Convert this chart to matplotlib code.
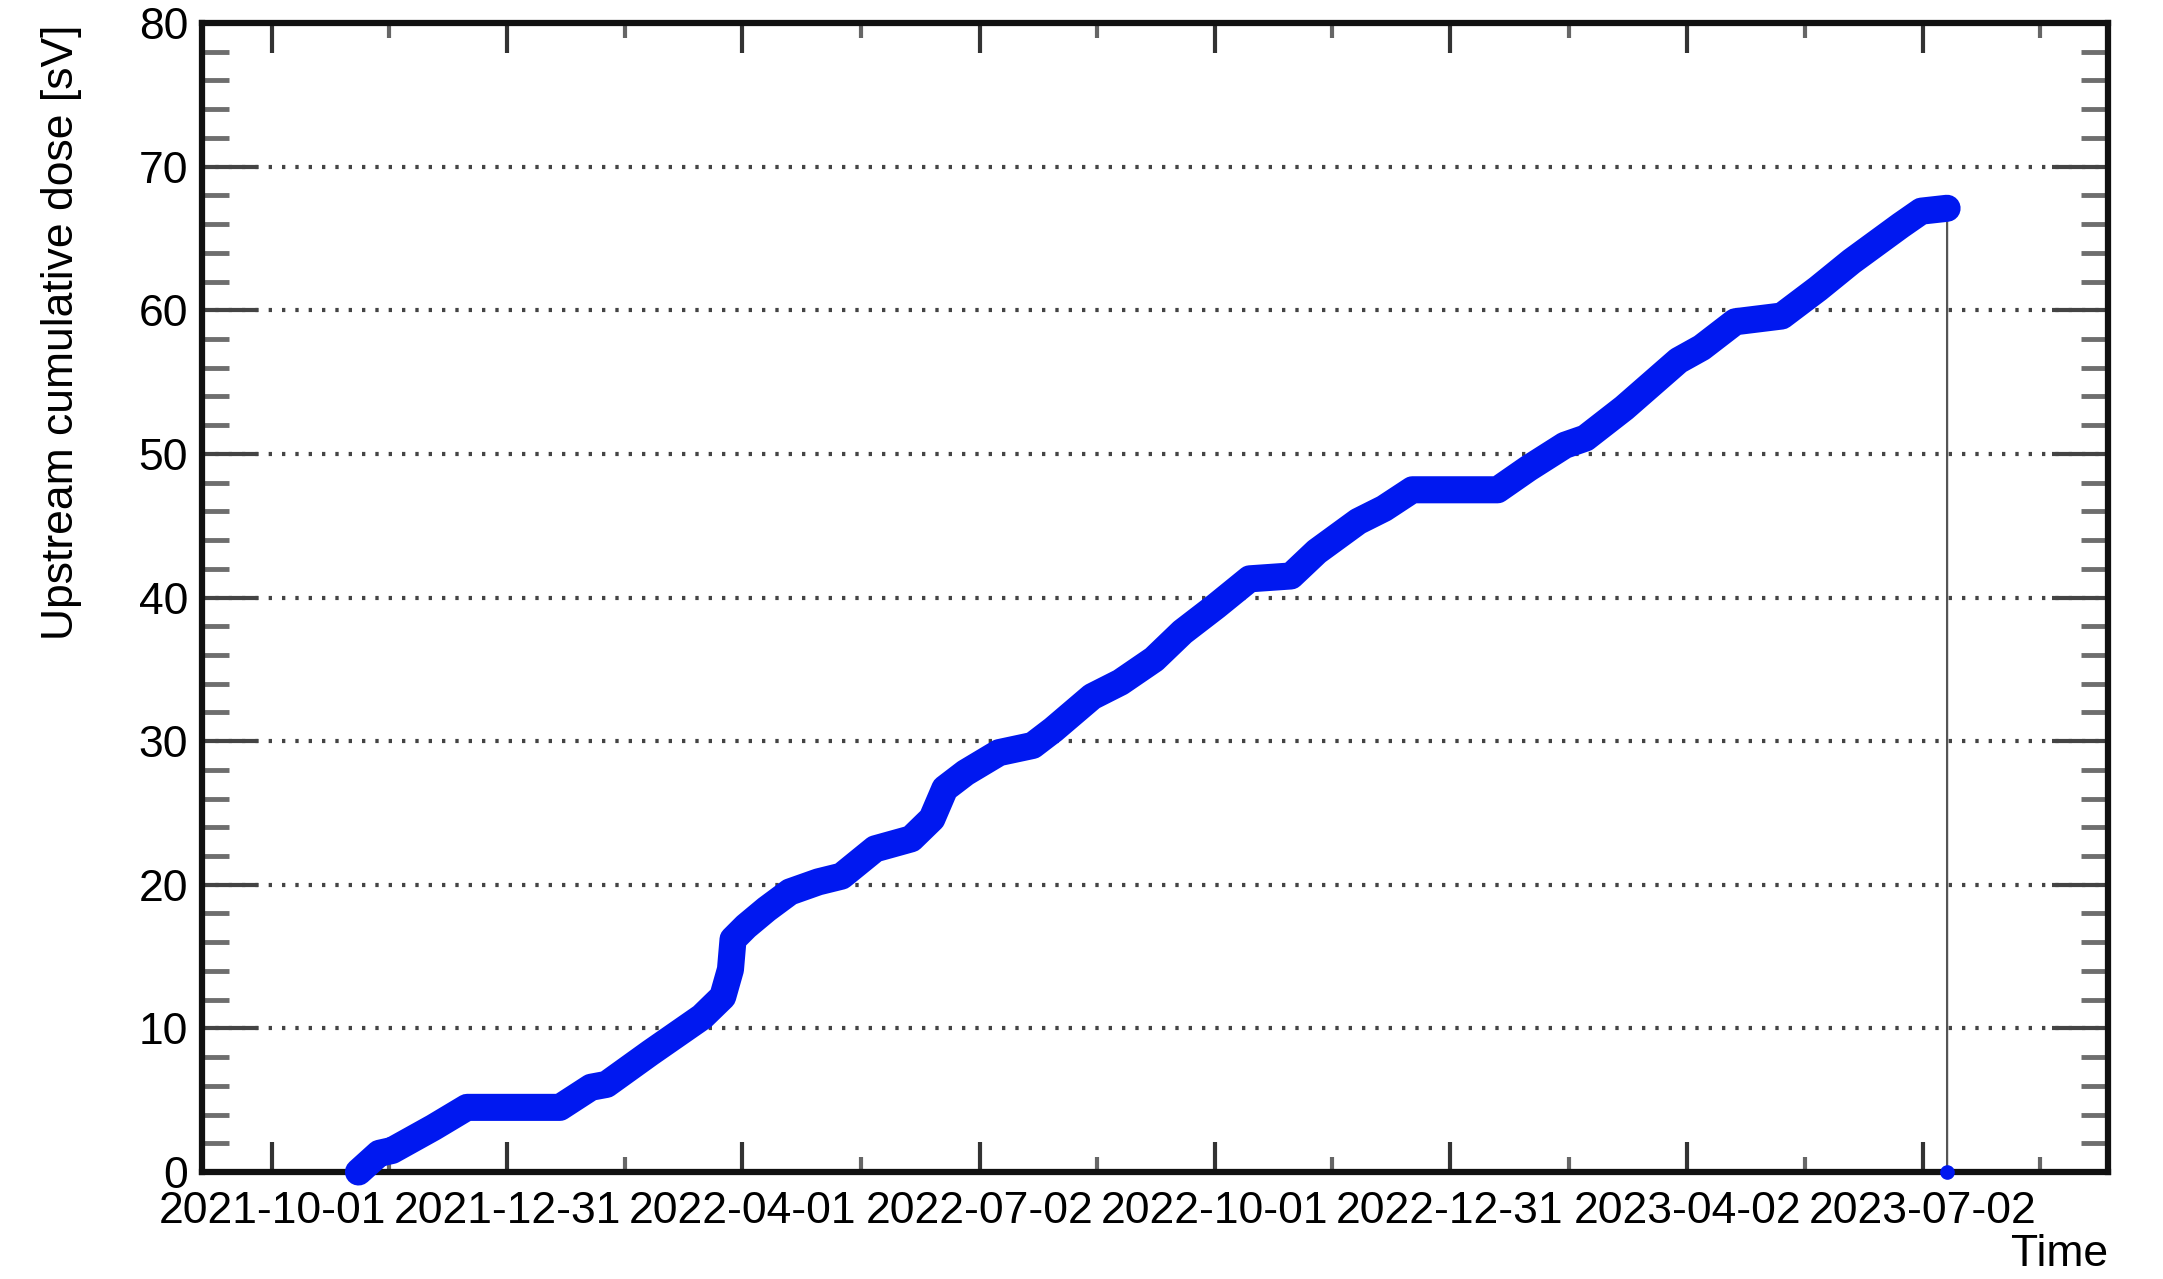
import numpy as np
import pandas as pd
import matplotlib
matplotlib.use('Agg')
import matplotlib.pyplot as plt
import matplotlib.dates as mdates

# values (last entry is the drop back to zero)
dates = ['2021-11-04', '2021-11-12', '2021-11-17', '2021-12-03', '2021-12-16',
         '2022-01-21', '2022-02-02', '2022-02-08', '2022-02-25', '2022-03-17',
         '2022-03-25', '2022-03-28', '2022-03-29', '2022-04-03', '2022-04-11',
         '2022-04-20', '2022-05-01', '2022-05-10', '2022-05-23', '2022-06-06',
         '2022-06-14', '2022-06-19', '2022-06-27', '2022-07-10', '2022-07-23',
         '2022-07-31', '2022-08-15', '2022-08-26', '2022-09-08', '2022-09-19',
         '2022-10-02', '2022-10-15', '2022-10-31', '2022-11-10', '2022-11-26',
         '2022-12-06', '2022-12-17', '2023-01-19', '2023-01-31', '2023-02-14',
         '2023-02-22', '2023-03-09', '2023-03-30', '2023-04-08', '2023-04-21',
         '2023-05-09', '2023-05-23', '2023-06-05', '2023-06-24', '2023-07-02',
         '2023-07-12', '2023-07-12']
dose = [0.0, 1.3, 1.5, 3.1, 4.5,
        4.5, 5.9, 6.1, 8.3, 10.8,
        12.2, 14.1, 16.2, 17.1, 18.3,
        19.5, 20.2, 20.6, 22.5, 23.2,
        24.6, 26.7, 27.8, 29.2, 29.7,
        30.8, 33.1, 34.1, 35.7, 37.6,
        39.4, 41.3, 41.5, 43.2, 45.3,
        46.2, 47.5, 47.5, 49.0, 50.6,
        51.1, 53.2, 56.5, 57.4, 59.2,
        59.6, 61.5, 63.4, 65.9, 66.9,
        67.1, 0.0]
tick_labels = ['2021-10-01', '2021-12-31', '2022-04-01', '2022-07-02',
               '2022-10-01', '2022-12-31', '2023-04-02', '2023-07-02']

blue = '#0018f0'
plt.rcParams['font.family'] = ['Liberation Sans', 'DejaVu Sans']

fig = plt.figure(figsize=(21.63, 12.79), dpi=100)
ax = fig.add_axes([202/2163, 1-1172/1279, 1906/2163, 1149/1279])

x = pd.to_datetime(dates)
ax.plot(x, dose, color='#555555', lw=1.6, zorder=3, clip_on=False)
ax.plot(x[:-1], dose[:-1], color=blue, lw=19.5, solid_capstyle='round',
        solid_joinstyle='round', zorder=4, clip_on=False)
ax.plot(x[-1:], dose[-1:], 'o', color=blue, ms=9.5, zorder=5, clip_on=False)

ax.set_xlim(pd.Timestamp('2021-09-04 10:00'), pd.Timestamp('2023-09-12 07:00'))
ax.set_ylim(0, 80)

major = mdates.date2num(pd.to_datetime(tick_labels) + pd.Timedelta(hours=12))
step = np.mean(np.diff(major))
minor = np.append(major[:-1] + np.diff(major) / 2, major[-1] + step / 2)
ax.set_xticks(major)
ax.set_xticklabels(tick_labels)
ax.set_xticks(minor, minor=True)
ax.set_yticks(np.arange(0, 81, 10))
ax.set_yticks(np.arange(0, 81, 2), minor=True)

ax.tick_params(axis='x', which='major', direction='in', length=21.6, width=3,
               color='#333333', top=True, bottom=True, labelsize=32, pad=14)
ax.tick_params(axis='x', which='minor', direction='in', length=10.8, width=3,
               color='#666666', top=True, bottom=True)
ax.tick_params(axis='y', which='major', direction='in', length=40, width=3,
               color='#444444', left=True, right=True, labelsize=32, pad=10)
ax.tick_params(axis='y', which='minor', direction='in', length=19.5, width=3.5,
               color='#6e6e6e', left=True, right=True)

ax.set_axisbelow(True)
ax.yaxis.grid(True, which='major', ls=(0, (0.8, 2.4)), lw=3, color='#444444')
ax.xaxis.grid(False)
for s in ax.spines.values():
    s.set_linewidth(4.5)
    s.set_color('#111111')

fig.text(62/2163, 1-25/1279, 'Upstream cumulative dose [sV]', rotation=90,
         ha='center', va='top', fontsize=32)
fig.text(2108/2163, 1-1255/1279, 'Time', ha='right', va='center', fontsize=32)

fig.savefig('out.png', dpi=100)
